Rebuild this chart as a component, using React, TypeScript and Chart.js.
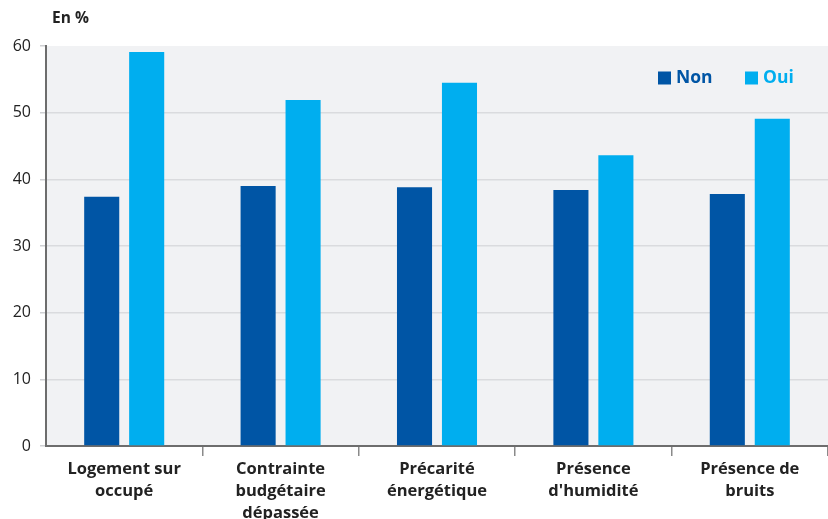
import React, { useEffect, useRef } from "react";
import { Chart, registerables } from "chart.js";

Chart.register(...registerables);

const categories: string[][] = [
  ["Logement sur", "occupé"],
  ["Contrainte", "budgétaire", "dépassée"],
  ["Précarité", "énergétique"],
  ["Présence", "d'humidité"],
  ["Présence de", "bruits"],
];
const seriesNon: number[] = [37.4, 39.0, 38.8, 38.4, 37.8];
const seriesOui: number[] = [59.1, 51.9, 54.5, 43.6, 49.1];
const yTicks: number[] = [0, 10, 20, 30, 40, 50, 60];

const COLOR_NON = "#0055a5";
const COLOR_OUI = "#00aeef";
const FONT = "'Open Sans', sans-serif";

const bgPlugin = {
  id: "bgPlugin",
  beforeDraw(chart: any) {
    const { ctx, chartArea } = chart;
    ctx.save();
    ctx.fillStyle = "#f1f2f4";
    ctx.fillRect(chartArea.left, chartArea.top, chartArea.right - chartArea.left, chartArea.bottom - chartArea.top);
    ctx.restore();
  },
  afterDraw(chart: any) {
    const { ctx, chartArea } = chart;
    ctx.save();
    // unit title
    ctx.fillStyle = "#222";
    ctx.font = `bold 15.5px ${FONT}`;
    ctx.textBaseline = "middle";
    ctx.textAlign = "left";
    ctx.fillText("En %", chartArea.left + 6, 19);
    // legend
    const items = [
      { label: "Non", color: COLOR_NON, x: 658 },
      { label: "Oui", color: COLOR_OUI, x: 745 },
    ];
    const cy = 78;
    ctx.font = `bold 17.5px ${FONT}`;
    for (const it of items) {
      ctx.fillStyle = it.color;
      ctx.fillRect(it.x, cy - 6.5, 13, 13);
      ctx.fillText(it.label, it.x + 18, cy);
    }
    ctx.restore();
  },
};

export default function App() {
  const ref = useRef<HTMLCanvasElement | null>(null);
  useEffect(() => {
    document.body.style.margin = "0";
    if (!ref.current) return;
    const chart = new Chart(ref.current, {
      type: "bar",
      data: {
        labels: categories,
        datasets: [
          { label: "Non", data: seriesNon, backgroundColor: COLOR_NON, categoryPercentage: 0.575, barPercentage: 0.78 },
          { label: "Oui", data: seriesOui, backgroundColor: COLOR_OUI, categoryPercentage: 0.575, barPercentage: 0.78 },
        ],
      },
      options: {
        responsive: false,
        animation: false,
        devicePixelRatio: 1,
        layout: { padding: { top: 46, left: 0, right: 0, bottom: 0 } },
        plugins: { legend: { display: false }, tooltip: { enabled: false } },
        scales: {
          x: {
            afterFit(scale: any) {
              scale.height = 73;
            },
            grid: {
              offset: true,
              drawOnChartArea: false,
              drawTicks: true,
              tickLength: 10,
              tickColor: (ctx: any) =>
                ctx.index === 0 || ctx.index === categories.length ? "rgba(0,0,0,0)" : "#8a8a8a",
              lineWidth: 1.5,
            },
            border: { display: true, color: "#6d6d6d", width: 2 },
            ticks: {
              color: "#222",
              font: { family: FONT, size: 16.5, weight: "bold", lineHeight: 1.33 },
              padding: 2,
              maxRotation: 0,
              autoSkip: false,
            },
          },
          y: {
            min: 0,
            max: 60,
            afterFit(scale: any) {
              scale.width = 46;
            },
            afterBuildTicks(scale: any) {
              scale.ticks = yTicks.map((v) => ({ value: v }));
            },
            grid: {
              color: (ctx: any) => (ctx.tick && ctx.tick.value === 60 ? "rgba(0,0,0,0)" : "#dadbde"),
              lineWidth: 1.5,
              drawTicks: true,
              tickLength: 6,
              tickColor: "#cfd0d3",
            },
            border: { display: true, color: "#6d6d6d", width: 2 },
            ticks: {
              color: "#222",
              font: { family: FONT, size: 16 },
              padding: 9,
            },
          },
        },
      },
      plugins: [bgPlugin],
    } as any);
    return () => chart.destroy();
  }, []);
  return (
    <div style={{ position: "relative", width: 828, height: 519 }}>
      <canvas ref={ref} width={828} height={519} style={{ display: "block" }} />
    </div>
  );
}
